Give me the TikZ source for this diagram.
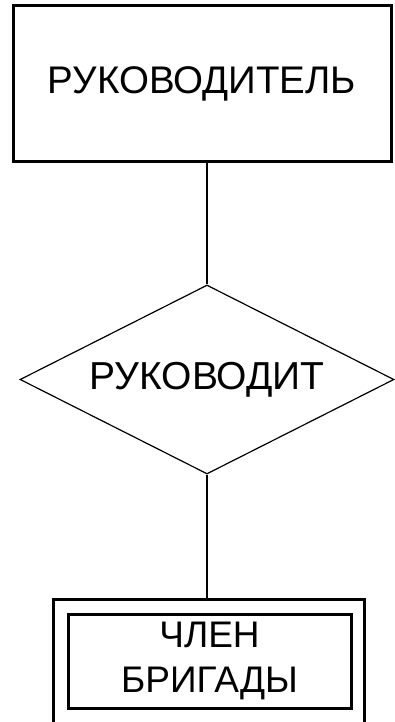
\documentclass[tikz,border=0pt]{standalone}
\usepackage{fontspec}
\setmainfont{Liberation Sans}
\usetikzlibrary{shapes.geometric}
\tikzset{
  entity/.style={draw, line width=3pt, inner sep=0pt, align=center,
    font=\fontsize{38.5}{45}\selectfont},
  relation/.style={draw, diamond, aspect=2, line width=1.2pt, inner sep=0pt,
    font=\fontsize{39}{45}\selectfont},
  link/.style={line width=1.8pt}
}
\begin{document}
\begin{tikzpicture}[x=1pt, y=-1pt]
            \useasboundingbox (0,0) rectangle (394,722);
            \node[entity, minimum width=378pt, minimum height=156pt] (boss) at (202,83.5) {РУКОВОДИТЕЛЬ};
            \node[relation, minimum width=374pt, minimum height=189pt] (rel) at (207,379.5) {РУКОВОДИТ};
            \node[entity, minimum width=311pt, minimum height=124pt] (crew) at (209,661) {};
            \node[entity, minimum width=283pt, minimum height=94pt, font=\fontsize{37}{45}\selectfont] (member) at (209.5,661) {ЧЛЕН\\БРИГАДЫ};
            \draw[link] (rel.north) -- (rel.north |- boss.south);
            \draw[link] (rel.south) -- (rel.south |- crew.north);
        \end{tikzpicture}
\end{document}
